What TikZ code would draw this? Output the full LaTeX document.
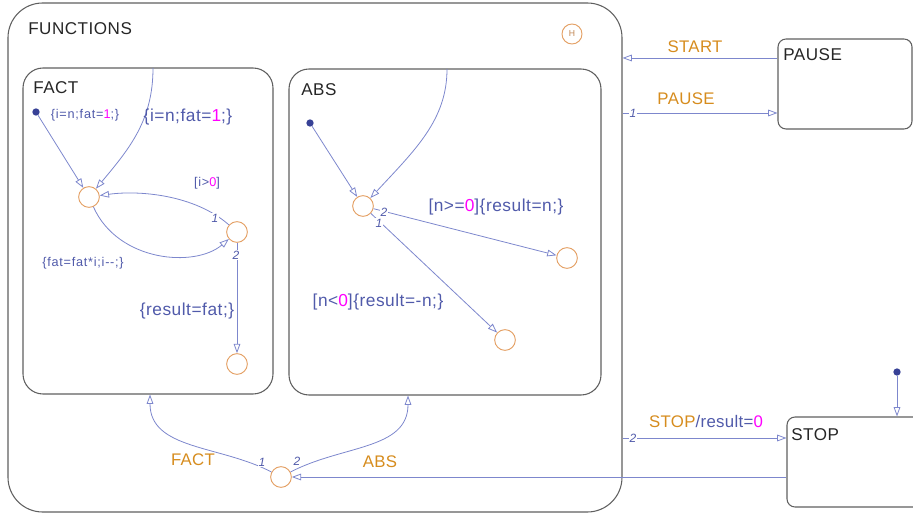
\documentclass[tikz,border=0pt]{standalone}
\usepackage{fontspec}
\setmainfont{Liberation Sans}
\usetikzlibrary{arrows.meta,fit}
\definecolor{trline}{RGB}{125,135,205}
\definecolor{trtext}{RGB}{80,90,170}
\definecolor{evt}{RGB}{214,140,30}
\definecolor{numc}{RGB}{255,0,255}
\definecolor{stateo}{RGB}{228,160,100}
\definecolor{framec}{RGB}{95,95,95}
\definecolor{dotc}{RGB}{55,65,150}

\begin{document}
\begin{tikzpicture}[x=0.75pt,y=-0.75pt,
  box/.style={draw=framec, line width=0.8pt, inner sep=0pt},
  bigbox/.style={box, rounded corners=26pt},
  subbox/.style={box, rounded corners=15pt},
  smallbox/.style={box, rounded corners=6pt},
  junc/.style={circle, draw=stateo, line width=0.7pt, minimum size=15.5pt, inner sep=0pt, fill=white},
  dflt/.style={circle, fill=dotc, minimum size=5.5pt, inner sep=0pt},
  tr/.style={draw=trline, line width=0.6pt, -{Triangle[length=7pt,width=5pt,fill=white]}},
  statename/.style={anchor=base west, font=\fontsize{12.8}{14}\selectfont\addfontfeature{LetterSpace=3}, text=black!85, inner sep=0pt},
  evlabel/.style={font=\fontsize{12.6}{14}\selectfont\addfontfeature{LetterSpace=2}, text=evt, inner sep=1pt},
  actbig/.style={font=\fontsize{13}{14}\selectfont\addfontfeature{LetterSpace=3}, text=trtext, inner sep=1pt},
  actsmall/.style={font=\fontsize{9.5}{10}\selectfont\addfontfeature{LetterSpace=6}, text=trtext, inner sep=1pt},
  order/.style={font=\fontsize{9}{10}\selectfont\itshape, text=trtext, fill=white, inner sep=0.6pt},
]
\useasboundingbox (0,0) rectangle (913,513);

% ---- superstates and states ----
\node[bigbox, fit={(8,3) (622,512)}] (functions) {};
\node[subbox, fit={(23,68) (273,394)}] (fact) {};
\node[subbox, fit={(289,69) (601,395)}] (abs) {};
\node[smallbox, fit={(778,39) (912,129)}] (pause) {};
\node[smallbox, fit={(787,417) (930,507)}] (stop) {};

\node[statename] (functionsname) at (28,35) {FUNCTIONS};
\node[statename] (factname) at (33,94) {FACT};
\node[statename] (absname) at (301,96) {ABS};
\node[statename] (pausename) at (783,61) {PAUSE};
\node[statename] (stopname) at (791,440) {STOP};

% history junction
\node[junc, minimum size=15pt, font=\fontsize{6.5}{7}\selectfont, text=stateo!85!black] (hist) at (572,34) {H};

% ---- junctions ----
\node[junc] (f1) at (89,197) {};
\node[junc] (f2) at (237,232) {};
\node[junc] (f3) at (237,364) {};
\node[junc] (a1) at (363,206) {};
\node[junc] (a2) at (567,258) {};
\node[junc] (a3) at (505,340) {};
\node[junc] (j) at (281,477) {};

% default transition dots
\node[dflt] (factdot) at (36,112) {};
\node[dflt] (absdot) at (310,123) {};
\node[dflt] (stopdot) at (897,372) {};

% entry points on the substate borders
\coordinate (factin) at (153,68);
\coordinate (absin) at (447,69);
\coordinate (factbot) at (fact.south -| 150,0);
\coordinate (absbot) at (abs.south -| 408,0);

% ---- transitions inside FACT ----
\draw[tr] (factdot) -- (f1);
\draw[tr] (factin) .. controls (153,120) and (130,148) .. (f1);
\draw[tr] (f2) .. controls (195,195) and (140,190) .. (f1);
\draw[tr] (f1) .. controls (118,262) and (195,268) .. (f2);
\draw[tr] (f2) -- (f3);

% ---- transitions inside ABS ----
\draw[tr] (absdot) -- (a1);
\draw[tr] (absin) .. controls (447,120) and (415,150) .. (a1);
\draw[tr] (a1) -- (a2);
\draw[tr] (a1) -- (a3);

% ---- transitions at the top level ----
\draw[tr] (j) .. controls (220,445) and (150,450) .. (factbot);
\draw[tr] (j) .. controls (342,445) and (408,450) .. (absbot);
\draw[tr] (stop.west |- j) -- (j);
\draw[tr] (pause.west |- 0,58) -- (functions.east |- 0,58);
\draw[tr] (functions.east |- 0,113) -- (pause.west |- 0,113);
\draw[tr] (functions.east |- 0,438) -- (stop.west |- 0,438);
\draw[tr] (stopdot) -- (stop.north -| stopdot);

% ---- transition labels ----
\node[actsmall] (lbl-finit) at (85,115) {\{i=n;fat=\textcolor{numc}{1};\}};
\node[actbig] (lbl-fentry) at (188,117) {\{i=n;fat=\textcolor{numc}{1};\}};
\node[actsmall] (lbl-loop) at (207,183) {[i>\textcolor{numc}{0}]};
\node[actsmall] (lbl-step) at (83,263) {\{fat=fat*i;i-{}-;\}};
\node[actbig] (lbl-res) at (187,311) {\{result=fat;\}};
\node[actbig] (lbl-pos) at (496,207) {[n>=\textcolor{numc}{0}]\{result=n;\}};
\node[actbig] (lbl-neg) at (378,302) {[n<\textcolor{numc}{0}]\{result=-n;\}};

\node[evlabel] (lbl-start) at (695,47) {START};
\node[evlabel] (lbl-pause) at (686,99) {PAUSE};
\node[evlabel, anchor=base] (lbl-stop) at (706,427) {STOP\textcolor{trtext}{/result=}\textcolor{numc}{0}};
\node[evlabel] (lbl-fact) at (193,460) {FACT};
\node[evlabel] (lbl-abs) at (380,462) {ABS};

% ---- execution order numbers ----
\node[order] (o-pause) at (633,113) {1};
\node[order] (o-stop) at (633,438) {2};
\node[order] (o-j1) at (262,462) {1};
\node[order] (o-j2) at (297,461) {2};
\node[order] (o-f1) at (215,218) {1};
\node[order] (o-f2) at (236,255) {2};
\node[order] (o-a2) at (384,212) {2};
\node[order] (o-a1) at (379,223) {1};
\end{tikzpicture}
\end{document}
